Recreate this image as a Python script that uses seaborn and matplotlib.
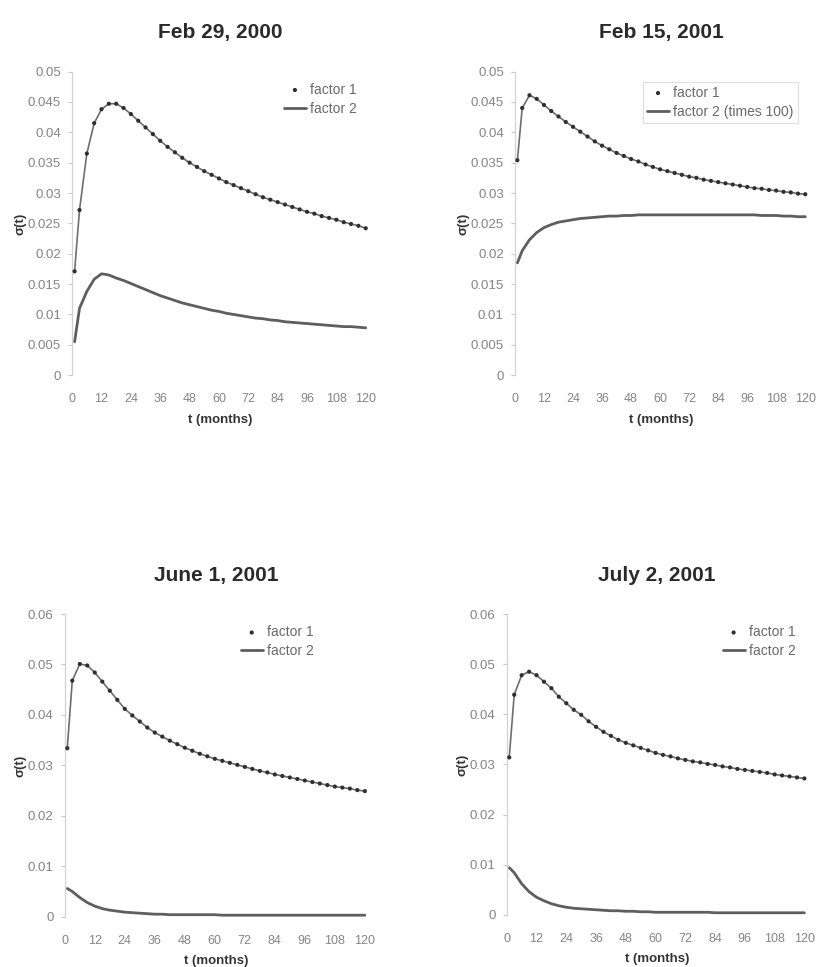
import matplotlib
matplotlib.use("Agg")
import matplotlib.pyplot as plt
import seaborn as sns
import pandas as pd

# horizon in months
months = [1, 3, 6, 9, 12, 15, 18, 21, 24, 27, 30, 33, 36, 39, 42, 45, 48, 51, 54, 57, 60,
          63, 66, 69, 72, 75, 78, 81, 84, 87, 90, 93, 96, 99, 102, 105, 108, 111, 114, 117, 120]

feb2000_f1 = [0.0171, 0.0272, 0.0365, 0.0415, 0.0438, 0.0447, 0.0447, 0.0440, 0.0430, 0.0419,
              0.0408, 0.0397, 0.0386, 0.0376, 0.0367, 0.0358, 0.0350, 0.0343, 0.0336, 0.0330,
              0.0324, 0.0318, 0.0313, 0.0308, 0.0303, 0.0298, 0.0293, 0.0289, 0.0285, 0.0281,
              0.0277, 0.0273, 0.0269, 0.0266, 0.0262, 0.0259, 0.0256, 0.0252, 0.0249, 0.0246, 0.0242]
feb2000_f2 = [0.0055, 0.0110, 0.0138, 0.0158, 0.0167, 0.0165, 0.0160, 0.0156, 0.0151, 0.0146,
              0.0141, 0.0136, 0.0131, 0.0127, 0.0123, 0.0119, 0.0116, 0.0113, 0.0110, 0.0107,
              0.0105, 0.0102, 0.0100, 0.0098, 0.0096, 0.0094, 0.0093, 0.0091, 0.0090, 0.0088,
              0.0087, 0.0086, 0.0085, 0.0084, 0.0083, 0.0082, 0.0081, 0.0080, 0.0080, 0.0079, 0.0078]

feb2001_f1 = [0.0354, 0.0440, 0.0461, 0.0455, 0.0445, 0.0435, 0.0426, 0.0417, 0.0409, 0.0401,
              0.0393, 0.0385, 0.0378, 0.0372, 0.0366, 0.0361, 0.0356, 0.0352, 0.0347, 0.0343,
              0.0339, 0.0336, 0.0333, 0.0330, 0.0327, 0.0325, 0.0322, 0.0320, 0.0318, 0.0316,
              0.0314, 0.0312, 0.0310, 0.0308, 0.0307, 0.0305, 0.0304, 0.0302, 0.0301, 0.0299, 0.0298]
feb2001_f2 = [0.0185, 0.0205, 0.0223, 0.0235, 0.0243, 0.0248, 0.0252, 0.0254, 0.0256, 0.0258,
              0.0259, 0.0260, 0.0261, 0.0262, 0.0262, 0.0263, 0.0263, 0.0264, 0.0264, 0.0264,
              0.0264, 0.0264, 0.0264, 0.0264, 0.0264, 0.0264, 0.0264, 0.0264, 0.0264, 0.0264,
              0.0264, 0.0264, 0.0264, 0.0264, 0.0263, 0.0263, 0.0263, 0.0262, 0.0262, 0.0261, 0.0261]

jun2001_f1 = [0.0334, 0.0468, 0.0501, 0.0498, 0.0484, 0.0466, 0.0448, 0.0430, 0.0412, 0.0399,
              0.0387, 0.0375, 0.0365, 0.0357, 0.0349, 0.0342, 0.0335, 0.0329, 0.0323, 0.0318,
              0.0313, 0.0309, 0.0305, 0.0301, 0.0297, 0.0293, 0.0289, 0.0286, 0.0282, 0.0279,
              0.0276, 0.0273, 0.0270, 0.0267, 0.0264, 0.0261, 0.0258, 0.0256, 0.0254, 0.0251, 0.0249]
jun2001_f2 = [0.0056, 0.0050, 0.0038, 0.0028, 0.0021, 0.0016, 0.0013, 0.0011, 0.0009, 0.0008,
              0.0007, 0.0006, 0.0005, 0.0005, 0.0004, 0.0004, 0.0004, 0.0004, 0.0004, 0.0004,
              0.0004, 0.0003, 0.0003, 0.0003, 0.0003, 0.0003, 0.0003, 0.0003, 0.0003, 0.0003,
              0.0003, 0.0003, 0.0003, 0.0003, 0.0003, 0.0003, 0.0003, 0.0003, 0.0003, 0.0003, 0.0003]

jul2001_f1 = [0.0314, 0.0439, 0.0478, 0.0485, 0.0478, 0.0465, 0.0452, 0.0435, 0.0422, 0.0409,
              0.0399, 0.0386, 0.0375, 0.0365, 0.0357, 0.0349, 0.0343, 0.0338, 0.0333, 0.0328,
              0.0323, 0.0319, 0.0316, 0.0312, 0.0309, 0.0306, 0.0304, 0.0301, 0.0299, 0.0296,
              0.0294, 0.0291, 0.0289, 0.0287, 0.0285, 0.0283, 0.0280, 0.0278, 0.0276, 0.0274, 0.0272]
jul2001_f2 = [0.0094, 0.0084, 0.0062, 0.0046, 0.0035, 0.0028, 0.0022, 0.0018, 0.0015, 0.0013,
              0.0012, 0.0011, 0.0010, 0.0009, 0.0008, 0.0008, 0.0007, 0.0007, 0.0006, 0.0006,
              0.0005, 0.0005, 0.0005, 0.0005, 0.0005, 0.0005, 0.0005, 0.0005, 0.0004, 0.0004,
              0.0004, 0.0004, 0.0004, 0.0004, 0.0004, 0.0004, 0.0004, 0.0004, 0.0004, 0.0004, 0.0004]

titles = ["Feb 29, 2000", "Feb 15, 2001", "June 1, 2001", "July 2, 2001"]
f2_labels = ["factor 2", "factor 2 (times 100)", "factor 2", "factor 2"]
x_ticks = [0, 12, 24, 36, 48, 60, 72, 84, 96, 108, 120]
top_yticks = [0, 0.005, 0.01, 0.015, 0.02, 0.025, 0.03, 0.035, 0.04, 0.045, 0.05]
top_ylabels = ["0", "0.005", "0.01", "0.015", "0.02", "0.025", "0.03", "0.035", "0.04", "0.045", "0.05"]
bot_yticks = [0, 0.01, 0.02, 0.03, 0.04, 0.05, 0.06]
bot_ylabels = ["0", "0.01", "0.02", "0.03", "0.04", "0.05", "0.06"]

sns.set_theme(style="white")
plt.rcParams["font.family"] = ["Liberation Sans", "DejaVu Sans"]

fig = plt.figure(figsize=(8.2, 9.67), dpi=100)

# [left, bottom, width, height] in figure fractions
rects = [[0.088, 0.612, 0.361, 0.314],
         [0.628, 0.612, 0.357, 0.314],
         [0.079, 0.052, 0.369, 0.313],
         [0.618, 0.054, 0.366, 0.311]]
series = [(feb2000_f1, feb2000_f2), (feb2001_f1, feb2001_f2),
          (jun2001_f1, jun2001_f2), (jul2001_f1, jul2001_f2)]
legend_anchor = [(1.0, 1.0), (0.99, 0.99), (0.86, 1.0), (1.0, 1.0)]

for i in range(4):
    ax = fig.add_axes(rects[i])
    f1, f2 = series[i]
    df = pd.DataFrame({"t": months, "f1": f1, "f2": f2})
    sns.lineplot(data=df, x="t", y="f1", ax=ax, color="#6e6e6e", lw=1.2, legend=False)
    sns.scatterplot(data=df, x="t", y="f1", ax=ax, color="#2f2f2f", s=9,
                    edgecolor="none", label="factor 1", zorder=3)
    sns.lineplot(data=df, x="t", y="f2", ax=ax, color="#5e5e5e", lw=2.0, label=f2_labels[i])

    ax.set_xlim(0, 121)
    if i < 2:
        ax.set_ylim(0, 0.05)
        ax.set_yticks(top_yticks)
        ax.set_yticklabels(top_ylabels)
    else:
        ax.set_ylim(0, 0.06)
        ax.set_yticks(bot_yticks)
        ax.set_yticklabels(bot_ylabels)
    ax.set_xticks(x_ticks)
    ax.set_xticklabels([str(v) for v in x_ticks])

    ax.tick_params(axis="y", left=True, length=3, width=0.8, color="#c8c8c8",
                   pad=5, labelsize=9.5, labelcolor="#858585")
    ax.tick_params(axis="x", bottom=False, pad=7, labelsize=9, labelcolor="#858585")
    for s in ["top", "right", "bottom"]:
        ax.spines[s].set_visible(False)
    ax.spines["left"].set_color("#d2d2d2")
    ax.spines["left"].set_linewidth(0.9)

    ax.set_title(titles[i], fontsize=15, fontweight="bold", color="#2a2a2a", pad=24)
    ax.set_xlabel("t (months)", fontsize=9.5, fontweight="bold", color="#333333", labelpad=6)
    ax.set_ylabel("σ(t)", fontsize=9.5, fontweight="bold", color="#333333", labelpad=1)

    leg = ax.legend(loc="upper right", bbox_to_anchor=legend_anchor[i], fontsize=10,
                    handlelength=1.6, handletextpad=0.3, labelspacing=0.35,
                    frameon=(i == 1), fancybox=False, borderpad=0.3)
    for txt in leg.get_texts():
        txt.set_color("#6a6a6a")
    if i == 1:
        leg.get_frame().set_edgecolor("#d8d8d8")
        leg.get_frame().set_linewidth(0.8)

fig.savefig("out.png", dpi=100)
